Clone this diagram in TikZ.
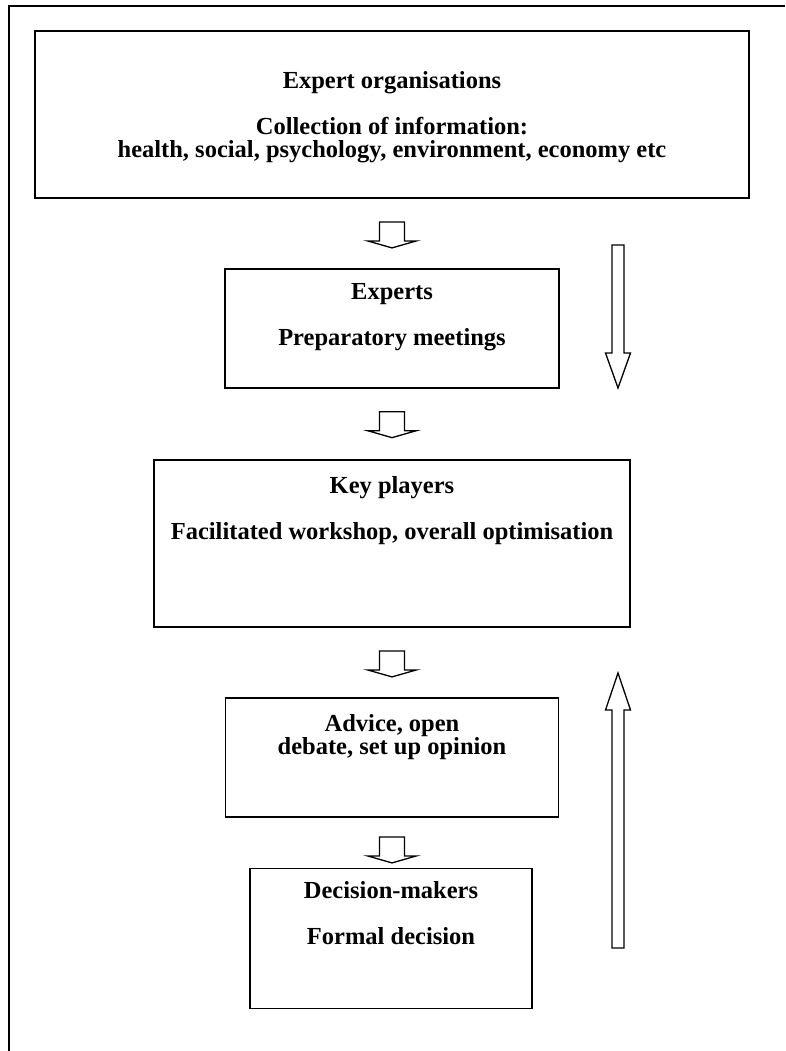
\documentclass[tikz,border=0pt]{standalone}
\usepackage{fontspec}
\setmainfont{Liberation Serif}
\usetikzlibrary{positioning}

\tikzset{
  box/.style={draw, line width=1.8pt, inner sep=0pt},
  boxtext/.style={align=center, inner sep=0pt, font=\fontsize{24.5}{23}\selectfont\bfseries},
  arrowline/.style={draw, line width=1.3pt, line join=miter},
  smallarrow/.pic={
    \draw[arrowline] (-12.5,0) -- (-12.5,19) -- (-24.5,19) -- (0,26) -- (24.5,19) -- (12.5,19) -- (12.5,0) -- cycle;
  }
}

\begin{document}
\begin{tikzpicture}[x=1pt, y=-1pt]
        \useasboundingbox (0,0) rectangle (785,1051);
        \draw[line width=2pt] (785,6) -- (9,6) -- (9,1051);

        \node[box, minimum width=714pt, minimum height=167pt] (orgs) at (392,114.5) {};
        \node[box, line width=1.3pt, minimum width=334pt, minimum height=119pt] (experts) at (392,328.5) {};
        \node[box, minimum width=476pt, minimum height=167pt] (players) at (392,543.5) {};
        \node[box, minimum width=333pt, minimum height=119pt] (advice) at (392,757.5) {};
        \node[box, minimum width=282pt, minimum height=140pt] (decision) at (391,938.5) {};

        \node[boxtext, below=41pt of orgs.north] (orgstext) {Expert organisations\\[23pt]Collection of information:\\health, social, psychology, environment, economy etc};
        \node[boxtext, below=15pt of experts.north] (expertstext) {Experts\\[23pt]Preparatory meetings};
        \node[boxtext, below=17pt of players.north] (playerstext) {Key players\\[23pt]Facilitated workshop, overall optimisation};
        \node[boxtext, below=17pt of advice.north] (advicetext) {Advice, open\\debate, set up opinion};
        \node[boxtext, below=14pt of decision.north] (decisiontext) {Decision-makers\\[23pt]Formal decision};

        \coordinate[below=23pt of orgs.south] (a1);
        \coordinate[below=23pt of experts.south] (a2);
        \coordinate[below=23pt of players.south] (a3);
        \coordinate[below=19pt of advice.south] (a4);
        \foreach \a in {a1,a2,a3,a4}
            \pic at (\a) {smallarrow};

        \draw[arrowline] (612,245) -- (624,245) -- (624,353) -- (630.5,353) -- (618,388) -- (605.5,353) -- (612,353) -- cycle;
        \draw[arrowline] (612,948) -- (624,948) -- (624,710) -- (630.5,710) -- (618,673) -- (605.5,710) -- (612,710) -- cycle;
    \end{tikzpicture}
\end{document}
